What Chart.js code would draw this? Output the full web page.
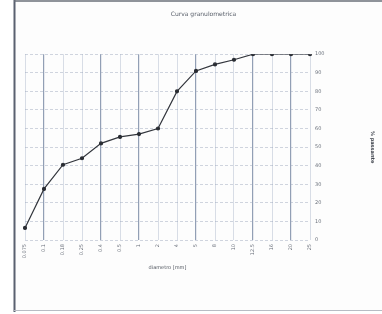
<!DOCTYPE html>
<html>
<head>
<meta charset="utf-8">
<script src="https://cdn.jsdelivr.net/npm/chart.js@4/dist/chart.umd.min.js"></script>
<style>
html,body{margin:0;padding:0;background:#ffffff;}
#wrap{position:relative;width:382px;height:314px;}
</style>
</head>
<body>
<div id="wrap"><canvas id="c" width="382" height="314"></canvas></div>
<script>
const chartTitle = "Curva granulometrica";
const xTitle = "diametro [mm]";
const yTitle = "% passante";
const categories = ["0.075","0.1","0.18","0.25","0.4","0.5","1","2","4","5","8","10","12.5","16","20","25"];
const passing = [6.5, 27.5, 40.5, 44, 52, 55.5, 57, 60, 80, 91, 94.5, 97, 100, 100, 100, 100];
const yTicks = [0,10,20,30,40,50,60,70,80,90,100];
const darkGridIdx = [1, 4, 6, 9, 12, 14];

const framePlugin = {
  id: 'frame',
  beforeDraw(chart) {
    const ctx = chart.ctx;
    ctx.save();
    ctx.fillStyle = '#fdfdfd';
    ctx.fillRect(15, 2, 367, 308);
    ctx.strokeStyle = '#5a6170';
    ctx.lineWidth = 2;
    ctx.beginPath();
    ctx.moveTo(14.5, 0); ctx.lineTo(14.5, 312);
    ctx.stroke();
    ctx.lineWidth = 1.5;
    ctx.strokeStyle = '#6a6f78';
    ctx.beginPath();
    ctx.moveTo(14, 1); ctx.lineTo(382, 1);
    ctx.stroke();
    ctx.strokeStyle = '#b8bcc4';
    ctx.lineWidth = 1;
    ctx.beginPath();
    ctx.moveTo(14, 310.5); ctx.lineTo(382, 310.5);
    ctx.stroke();
    ctx.restore();
  }
};

new Chart(document.getElementById('c'), {
  type: 'line',
  data: {
    labels: categories,
    datasets: [{
      data: passing,
      borderColor: '#33363d',
      borderWidth: 1.2,
      pointRadius: 1.5,
      pointBackgroundColor: '#2a2d33',
      pointBorderColor: '#2a2d33',
      tension: 0,
      fill: false
    }]
  },
  plugins: [framePlugin],
  options: {
    responsive: false,
    animation: false,
    devicePixelRatio: 1,
    layout: { padding: { left: 25, right: 0, top: 0, bottom: 0 } },
    plugins: {
      legend: { display: false },
      tooltip: { enabled: false },
      title: {
        display: true,
        text: chartTitle,
        color: '#5a606b',
        font: { family: 'DejaVu Sans', size: 6, weight: 'normal' },
        padding: { top: 11, bottom: 36 }
      }
    },
    scales: {
      x: {
        type: 'category',
        offset: false,
        afterFit(s) { s.height = 74; },
        grid: {
          drawTicks: false,
          color: (c) => darkGridIdx.includes(c.index) ? 'rgba(100,118,150,0.7)' : 'rgba(160,172,195,0.4)',
          lineWidth: (c) => darkGridIdx.includes(c.index) ? 1.2 : 1
        },
        border: { display: false },
        ticks: {
          color: '#6a707b',
          font: { family: 'DejaVu Sans', size: 5 },
          minRotation: 90, maxRotation: 90,
          padding: 4,
          autoSkip: false
        },
        title: {
          display: true,
          text: xTitle,
          color: '#50565f',
          font: { family: 'DejaVu Sans', size: 5 },
          padding: { top: 0, bottom: 43 }
        }
      },
      y: {
        position: 'right',
        min: 0, max: 100,
        afterFit(s) { s.width = 72; },
        afterBuildTicks(s) { s.ticks = yTicks.map(v => ({ value: v })); },
        grid: {
          drawTicks: false,
          color: 'rgba(150,162,185,0.45)'
        },
        border: { display: false, dash: [3, 2] },
        ticks: {
          color: '#6a707b',
          font: { family: 'DejaVu Sans', size: 5 },
          padding: 5
        },
        title: {
          display: true,
          text: yTitle,
          color: '#40454e',
          font: { family: 'DejaVu Sans', size: 5, weight: 'bold' },
          padding: { top: 7, bottom: 0 }
        }
      }
    }
  }
});
</script>
</body>
</html>
